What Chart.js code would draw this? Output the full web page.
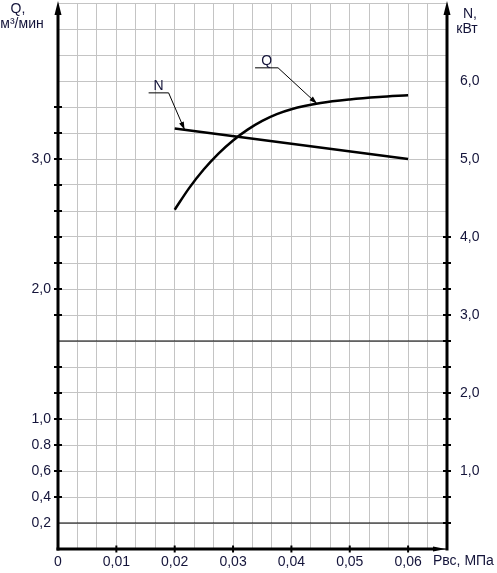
<!DOCTYPE html>
<html>
<head>
<meta charset="utf-8">
<script src="https://cdn.jsdelivr.net/npm/chart.js@4.4.0/dist/chart.umd.min.js"></script>
<style>
  html, body { margin: 0; padding: 0; background: #fff; }
  canvas { display: block; }
</style>
</head>
<body>
<canvas id="pumpChart" width="497" height="573"></canvas>
<script>
// Q curve (m³/min) against suction pressure Рвс (MPa)
const qPressure = [0.02, 0.0225, 0.025, 0.0275, 0.03, 0.0325, 0.035, 0.0375, 0.04, 0.045, 0.05, 0.055, 0.06];
const qFlow = [2.61, 2.778, 2.921, 3.042, 3.143, 3.226, 3.293, 3.345, 3.383, 3.43, 3.458, 3.477, 3.49];
// N line (kW)
const nPressure = [0.02, 0.06];
const nPower = [5.39, 5.0];
// thin black lines across the plot, on the Q scale
const qRefLevels = [1.6, 0.2];

const xTickValues = [0, 0.01, 0.02, 0.03, 0.04, 0.05, 0.06];
const xTickLabels = ['0', '0,01', '0,02', '0,03', '0,04', '0,05', '0,06'];
const qTickValues = [3.0, 2.0, 1.0, 0.8, 0.6, 0.4, 0.2];
const qTickLabels = ['3,0', '2,0', '1,0', '0.8', '0,6', '0,4', '0,2'];
const nTickValues = [6, 5, 4, 3, 2, 1];
const nTickLabels = ['6,0', '5,0', '4,0', '3,0', '2,0', '1,0'];
// short marks across the axis lines
const xMarks = [0.01, 0.02, 0.03, 0.04, 0.05, 0.06];
const qMarks = [0.4, 0.6, 0.8, 1.0, 1.2, 1.4, 1.8, 2.0, 2.2, 2.4, 2.6, 2.8, 3.0, 3.2, 3.4];
const nMarks = [1/3, 2/3, 1, 4/3, 5/3, 2, 7/3, 8/3, 3, 10/3, 11/3, 4];

// ranges and grid steps
const xMax = 0.2 / 3, xGridStep = 0.01 / 3;
const qMax = 4.2, qGridStep = 0.2;
const nMax = 7, nGridStep = 1 / 3;

const FONT = '"Liberation Sans", Arial, sans-serif';
const TEXT = '#14143a';

function steps(max, step) {
  const out = [];
  for (let i = 0; i * step <= max + 1e-9; i++) out.push({ value: i * step });
  return out;
}
function labelFor(values, labels, v) {
  const i = values.findIndex(t => Math.abs(t - v) < 1e-6);
  return i < 0 ? '' : labels[i];
}
function lerp(xs, ys, x) {
  for (let i = 1; i < xs.length; i++) {
    if (x <= xs[i]) {
      const t = (x - xs[i - 1]) / (xs[i] - xs[i - 1]);
      return ys[i - 1] + t * (ys[i] - ys[i - 1]);
    }
  }
  return ys[ys.length - 1];
}
function noPad(s) {
  s.paddingTop = 0; s.paddingBottom = 0; s.paddingLeft = 0; s.paddingRight = 0;
}

function seg(ctx, x1, y1, x2, y2) {
  ctx.beginPath(); ctx.moveTo(x1, y1); ctx.lineTo(x2, y2); ctx.stroke();
}
function arrowHead(ctx, fx, fy, tx, ty, len, half) {
  const a = Math.atan2(ty - fy, tx - fx);
  ctx.beginPath();
  ctx.moveTo(tx, ty);
  ctx.lineTo(tx - len * Math.cos(a) + half * Math.sin(a), ty - len * Math.sin(a) - half * Math.cos(a));
  ctx.lineTo(tx - len * Math.cos(a) - half * Math.sin(a), ty - len * Math.sin(a) + half * Math.cos(a));
  ctx.closePath();
  ctx.fill();
}
function callout(ctx, tipX, tipY, text, dxEnd, dxStart, dy) {
  const ux = tipX + dxEnd, uy = tipY + dy;
  ctx.lineWidth = 1;
  seg(ctx, tipX + dxStart, uy, ux, uy);
  seg(ctx, ux, uy, tipX, tipY);
  arrowHead(ctx, ux, uy, tipX, tipY, 8, 2.5);
  ctx.fillStyle = TEXT;
  ctx.textAlign = 'center';
  ctx.textBaseline = 'alphabetic';
  ctx.fillText(text, tipX + (dxStart + dxEnd) / 2, uy - 3);
  ctx.fillStyle = '#000';
}

const decor = {
  id: 'decor',
  afterDraw(chart) {
    const { ctx, chartArea: a, scales: { x, yQ, yN } } = chart;
    ctx.save();
    ctx.strokeStyle = '#000';
    ctx.fillStyle = '#000';
    ctx.lineCap = 'butt';

    // axis lines with arrows
    ctx.lineWidth = 3;
    seg(ctx, a.left, a.bottom + 1.5, a.left, 12);
    seg(ctx, a.right, a.bottom + 1.5, a.right, 12);
    seg(ctx, a.left - 1.5, a.bottom, a.right - 12, a.bottom);
    ctx.lineWidth = 1;
    seg(ctx, a.right - 14, a.bottom, a.right, a.bottom);
    arrowHead(ctx, a.left, 20, a.left, 1, 14, 3.5);
    arrowHead(ctx, a.right, 20, a.right, 1, 14, 3.5);
    arrowHead(ctx, a.right - 20, a.bottom, a.right - 1, a.bottom, 13, 2.5);

    // marks across the axes
    ctx.lineWidth = 2;
    qMarks.forEach(v => { const y = yQ.getPixelForValue(v); seg(ctx, a.left - 4, y, a.left + 4, y); });
    nMarks.forEach(v => { const y = yN.getPixelForValue(v); seg(ctx, a.right - 4, y, a.right + 4, y); });
    xMarks.forEach(v => { const px = x.getPixelForValue(v); seg(ctx, px, a.bottom - 3.5, px, a.bottom + 3.5); });

    // callouts for the curves
    ctx.font = '14px ' + FONT;
    const nx = 0.0217;
    callout(ctx, x.getPixelForValue(nx), yN.getPixelForValue(lerp(nPressure, nPower, nx)), 'N', -16, -36, -37);
    const qx = 0.0444;
    callout(ctx, x.getPixelForValue(qx), yQ.getPixelForValue(lerp(qPressure, qFlow, qx)), 'Q', -39, -62, -36);

    // axis titles
    ctx.fillStyle = TEXT;
    ctx.textAlign = 'center';
    ctx.textBaseline = 'middle';
    ctx.fillText('Q,', 18, 9);
    ctx.fillText('м³/мин', 22, 24);
    ctx.fillText('N,', 470, 14);
    ctx.fillText('кВт', 467, 29);
    ctx.textAlign = 'left';
    ctx.fillText('Рвс, МПа', 433, 561);
    ctx.restore();
  }
};

new Chart(document.getElementById('pumpChart'), {
  type: 'line',
  data: {
    datasets: [
      {
        label: 'Q',
        data: qPressure.map((p, i) => ({ x: p, y: qFlow[i] })),
        yAxisID: 'yQ',
        borderColor: '#000',
        borderWidth: 2.5,
        pointRadius: 0,
        cubicInterpolationMode: 'monotone'
      },
      {
        label: 'N',
        data: nPressure.map((p, i) => ({ x: p, y: nPower[i] })),
        yAxisID: 'yN',
        borderColor: '#000',
        borderWidth: 2.5,
        pointRadius: 0
      },
      ...qRefLevels.map(level => ({
        label: 'ref ' + level,
        data: [{ x: 0, y: level }, { x: xMax, y: level }],
        yAxisID: 'yQ',
        borderColor: '#000',
        borderWidth: 1,
        pointRadius: 0
      }))
    ]
  },
  options: {
    responsive: false,
    animation: false,
    layout: { padding: { top: 3, left: 0, right: 0, bottom: 0 } },
    plugins: { legend: { display: false }, tooltip: { enabled: false } },
    scales: {
      x: {
        type: 'linear',
        min: 0,
        max: xMax,
        afterBuildTicks: s => { s.ticks = steps(xMax, xGridStep); },
        afterFit: s => { s.height = 24; noPad(s); },
        border: { display: false },
        grid: { color: '#c4c4c4', lineWidth: 1, drawTicks: false },
        ticks: {
          autoSkip: false,
          maxRotation: 0,
          padding: 5,
          color: TEXT,
          font: { family: FONT, size: 14 },
          callback: v => labelFor(xTickValues, xTickLabels, v)
        }
      },
      yQ: {
        type: 'linear',
        position: 'left',
        min: 0,
        max: qMax,
        afterBuildTicks: s => { s.ticks = steps(qMax, qGridStep); },
        afterFit: s => { s.width = 58; noPad(s); },
        border: { display: false },
        grid: { color: '#c4c4c4', lineWidth: 1, drawTicks: false },
        ticks: {
          autoSkip: false,
          padding: 7,
          color: TEXT,
          font: { family: FONT, size: 14 },
          callback: v => labelFor(qTickValues, qTickLabels, v)
        }
      },
      yN: {
        type: 'linear',
        position: 'right',
        min: 0,
        max: nMax,
        afterBuildTicks: s => { s.ticks = steps(nMax, nGridStep); },
        afterFit: s => { s.width = 50; noPad(s); },
        border: { display: false },
        grid: { display: false, drawTicks: false },
        ticks: {
          autoSkip: false,
          padding: 13,
          color: TEXT,
          font: { family: FONT, size: 14 },
          callback: v => labelFor(nTickValues, nTickLabels, v)
        }
      }
    }
  },
  plugins: [decor]
});
</script>
</body>
</html>
